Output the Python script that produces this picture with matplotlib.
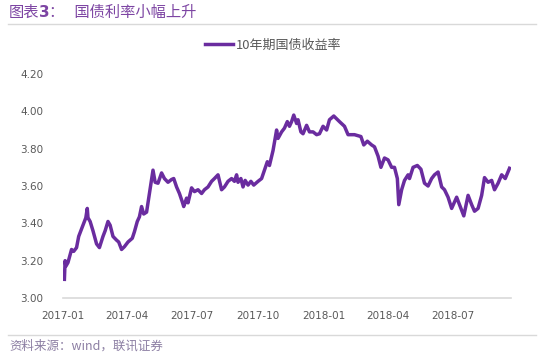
import matplotlib
matplotlib.use("Agg")
import matplotlib.pyplot as plt
import matplotlib.dates as mdates
import pandas as pd

plt.rcParams['font.family'] = ['Noto Sans CJK SC', 'DejaVu Sans']

dates = [
    "2017-01-03", "2017-01-04", "2017-01-05", "2017-01-08", "2017-01-13", "2017-01-16",
    "2017-01-20", "2017-01-23", "2017-01-29", "2017-02-02", "2017-02-04", "2017-02-05",
    "2017-02-08", "2017-02-12", "2017-02-17", "2017-02-21", "2017-02-26", "2017-03-01",
    "2017-03-05", "2017-03-08", "2017-03-12", "2017-03-17", "2017-03-20", "2017-03-24",
    "2017-03-28", "2017-04-02", "2017-04-08", "2017-04-11", "2017-04-15", "2017-04-18",
    "2017-04-21", "2017-04-24", "2017-04-28", "2017-05-02", "2017-05-07", "2017-05-10",
    "2017-05-14", "2017-05-19", "2017-05-23", "2017-05-28", "2017-06-02", "2017-06-05",
    "2017-06-09", "2017-06-13", "2017-06-17", "2017-06-19", "2017-06-23", "2017-06-25",
    "2017-06-30", "2017-07-04", "2017-07-09", "2017-07-14", "2017-07-18", "2017-07-23",
    "2017-07-28", "2017-08-01", "2017-08-06", "2017-08-11", "2017-08-15", "2017-08-20",
    "2017-08-25", "2017-08-29", "2017-09-01", "2017-09-03", "2017-09-07", "2017-09-10",
    "2017-09-13", "2017-09-17", "2017-09-21", "2017-09-25", "2017-10-01", "2017-10-06",
    "2017-10-10", "2017-10-14", "2017-10-17", "2017-10-22", "2017-10-27", "2017-10-29",
    "2017-11-03", "2017-11-07", "2017-11-11", "2017-11-14", "2017-11-17", "2017-11-20",
    "2017-11-24", "2017-11-26", "2017-11-30", "2017-12-03", "2017-12-08", "2017-12-12",
    "2017-12-17", "2017-12-22", "2017-12-26", "2017-12-31", "2018-01-05", "2018-01-09",
    "2018-01-15", "2018-01-23", "2018-01-30", "2018-02-04", "2018-02-13", "2018-02-22",
    "2018-02-26", "2018-03-03", "2018-03-09", "2018-03-13", "2018-03-18", "2018-03-22",
    "2018-03-27", "2018-04-01", "2018-04-06", "2018-04-10", "2018-04-14", "2018-04-16",
    "2018-04-20", "2018-04-24", "2018-04-29", "2018-05-01", "2018-05-06", "2018-05-12",
    "2018-05-17", "2018-05-22", "2018-05-27", "2018-06-01", "2018-06-05", "2018-06-10",
    "2018-06-15", "2018-06-19", "2018-06-24", "2018-06-29", "2018-07-06", "2018-07-10",
    "2018-07-16", "2018-07-22", "2018-07-27", "2018-07-31", "2018-08-05", "2018-08-10",
    "2018-08-14", "2018-08-19", "2018-08-24", "2018-08-28", "2018-09-02", "2018-09-07",
    "2018-09-12", "2018-09-18",
]
yields = [
    3.10, 3.20, 3.17, 3.19, 3.26, 3.25,
    3.27, 3.33, 3.39, 3.43, 3.48, 3.43,
    3.41, 3.36, 3.29, 3.27, 3.33, 3.36,
    3.41, 3.39, 3.33, 3.31, 3.30, 3.26,
    3.275, 3.30, 3.32, 3.355, 3.41, 3.435,
    3.49, 3.45, 3.46, 3.56, 3.685, 3.62,
    3.615, 3.67, 3.64, 3.62, 3.635, 3.64,
    3.595, 3.56, 3.515, 3.49, 3.535, 3.51,
    3.59, 3.57, 3.58, 3.56, 3.58, 3.595,
    3.625, 3.64, 3.66, 3.58, 3.595, 3.625,
    3.64, 3.625, 3.66, 3.62, 3.64, 3.595,
    3.63, 3.605, 3.625, 3.605, 3.625, 3.64,
    3.685, 3.73, 3.71, 3.79, 3.90, 3.855,
    3.89, 3.91, 3.945, 3.92, 3.945, 3.98,
    3.935, 3.955, 3.89, 3.88, 3.925, 3.89,
    3.89, 3.875, 3.88, 3.92, 3.90, 3.955,
    3.975, 3.945, 3.92, 3.875, 3.875, 3.865,
    3.82, 3.84, 3.82, 3.81, 3.76, 3.70,
    3.75, 3.74, 3.70, 3.70, 3.64, 3.50,
    3.58, 3.63, 3.66, 3.64, 3.70, 3.71,
    3.69, 3.615, 3.60, 3.64, 3.66, 3.675,
    3.595, 3.58, 3.54, 3.48, 3.54, 3.50,
    3.44, 3.55, 3.50, 3.465, 3.48, 3.55,
    3.645, 3.62, 3.63, 3.58, 3.615, 3.66,
    3.64, 3.695,
]
yticks = [3.00, 3.20, 3.40, 3.60, 3.80, 4.00, 4.20]
xticks = ["2017-01-01", "2017-04-01", "2017-07-01", "2017-10-01",
          "2018-01-01", "2018-04-01", "2018-07-01"]
series_name = "10年期国债收益率"
title_prefix = "图表"
title_num = "3"
title_main = "：   国债利率小幅上升"
source_text = "资料来源：wind，联讯证券"

purple = "#6a2c9f"
title_color = "#7d45a3"
grey_text = "#595959"

fig = plt.figure(figsize=(5.5, 3.6), dpi=100)
ax = fig.add_axes([0.1145, 0.1722, 0.8145, 0.6222])

x = pd.to_datetime(dates)
ax.plot(x, yields, color=purple, lw=2.5, label=series_name, solid_joinstyle='round')

ax.set_ylim(3.0, 4.2)
ax.set_yticks(yticks)
ax.set_yticklabels([f"{v:.2f}" for v in yticks])
ax.set_xlim(pd.Timestamp("2017-01-01"), pd.Timestamp("2018-09-20"))
ax.set_xticks(pd.to_datetime(xticks))
ax.xaxis.set_major_formatter(mdates.DateFormatter("%Y-%m"))

for s in ["top", "right", "left"]:
    ax.spines[s].set_visible(False)
ax.spines["bottom"].set_color("#d9d9d9")
ax.spines["bottom"].set_linewidth(1.2)
ax.tick_params(axis='both', length=0, labelsize=7.5, colors=grey_text)
ax.tick_params(axis='y', pad=14)
ax.tick_params(axis='x', pad=9)
for lab in ax.get_xticklabels() + ax.get_yticklabels():
    lab.set_family(['DejaVu Sans'])

leg = ax.legend(loc='center', bbox_to_anchor=(0.497, 0.875), bbox_transform=fig.transFigure,
                frameon=False, fontsize=9.4, handlelength=2.1, handletextpad=0.25)
for t in leg.get_texts():
    t.set_color(grey_text)

t1 = fig.text(0.015, 0.965, title_prefix, fontsize=11, color=title_color, va='center', ha='left')
fig.canvas.draw()
r = fig.canvas.get_renderer()
bb = t1.get_window_extent(r)
t2 = fig.text(bb.x1 / fig.bbox.width, 0.965, title_num, fontsize=11, color=title_color,
              va='center', ha='left', weight='bold', family=['DejaVu Sans'])
bb2 = t2.get_window_extent(r)
fig.text(bb2.x1 / fig.bbox.width, 0.965, title_main, fontsize=11, color=title_color,
         va='center', ha='left')

fig.add_artist(plt.Line2D([0.015, 0.975], [0.933, 0.933], color="#d9d9d9", lw=1.0,
                          transform=fig.transFigure))
fig.add_artist(plt.Line2D([0.015, 0.975], [0.07, 0.07], color="#d9d9d9", lw=1.0,
                          transform=fig.transFigure))
fig.text(0.018, 0.038, source_text, fontsize=9, color="#8c7fa3", style='italic',
         va='center', ha='left')

fig.savefig("out.png", dpi=100)
